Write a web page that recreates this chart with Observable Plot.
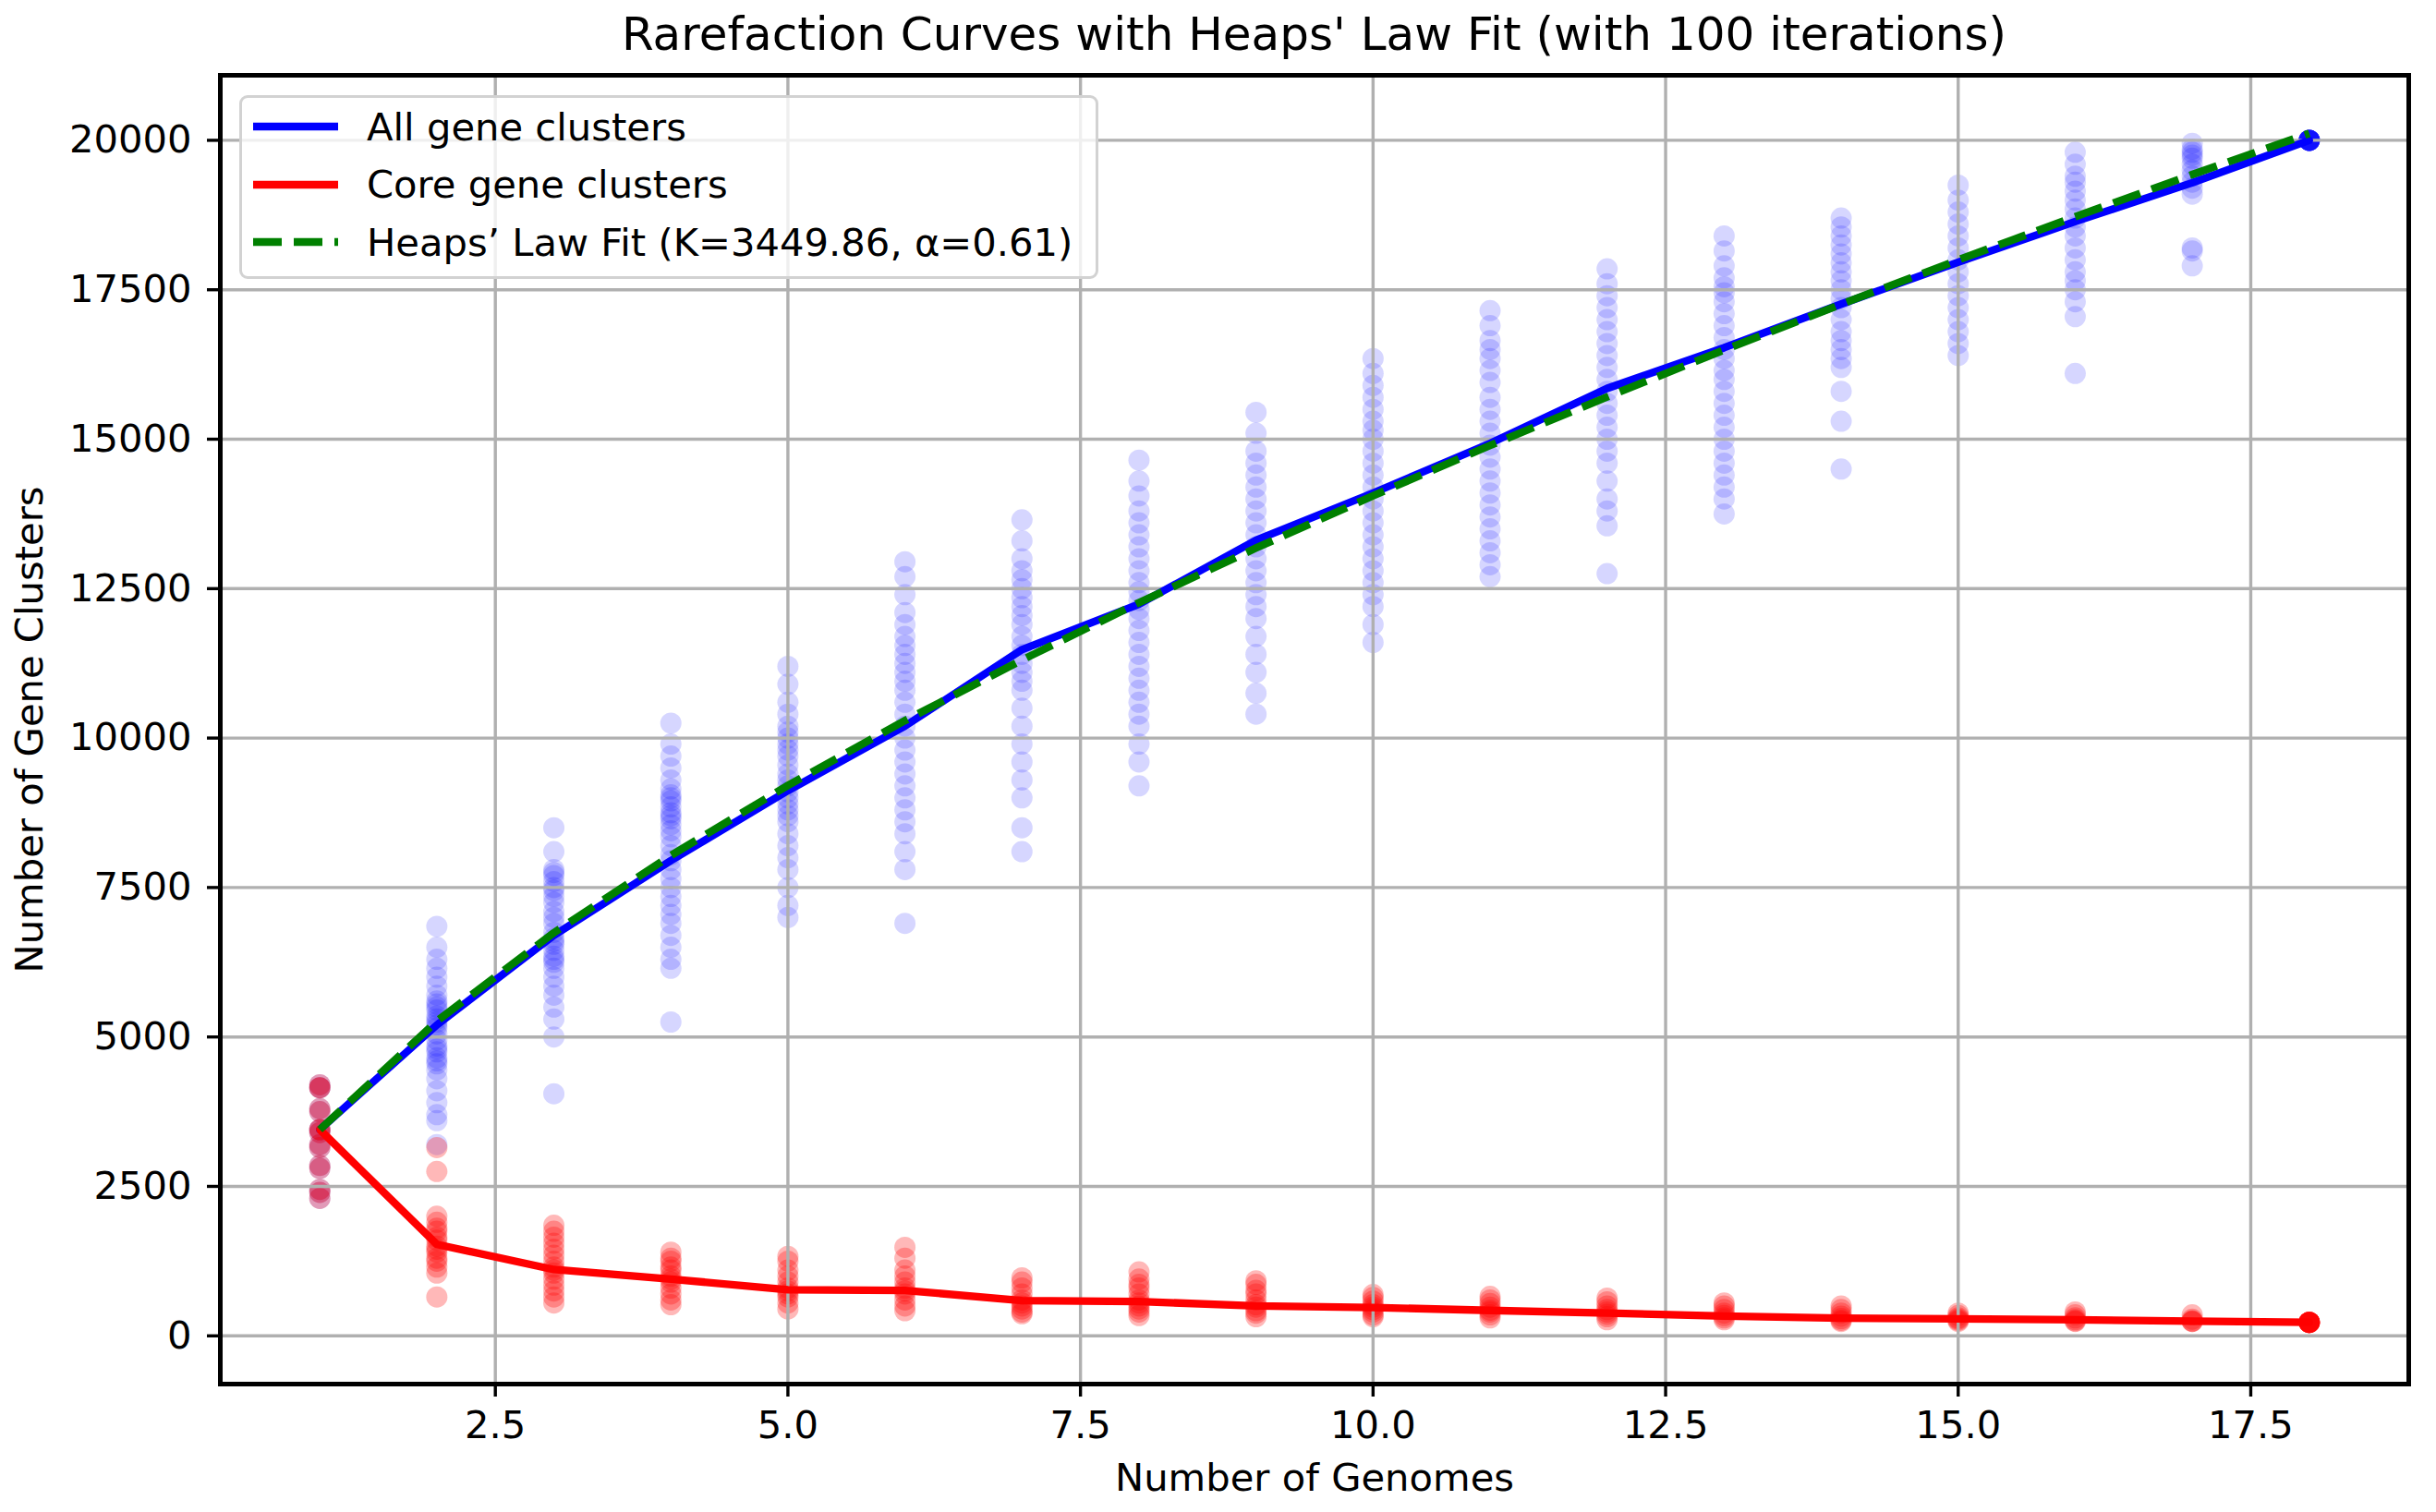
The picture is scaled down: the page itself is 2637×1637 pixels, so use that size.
<!DOCTYPE html>
<html>
<head>
<meta charset="utf-8">
<script src="https://cdn.jsdelivr.net/npm/d3@7"></script>
<script src="https://cdn.jsdelivr.net/npm/@observablehq/plot@0.6"></script>
<style>
  html, body { margin: 0; padding: 0; background: white; }
  #wrap { position: relative; width: 2637px; height: 1637px; font-family: "DejaVu Sans", sans-serif; }
  #title { height: 75px; line-height: 75px; font-size: 50px; text-align: center; padding-left: 238px; padding-right: 30px; box-sizing: border-box; width: 2637px; white-space: nowrap; }
  #legend { position: absolute; left: 259px; top: 103px; width: 930px; height: 199px; border: 3px solid #d2d2d2; border-radius: 9px; background: rgba(255,255,255,0.8); box-sizing: border-box; }
  .row { position: absolute; left: 0; height: 62px; display: flex; align-items: center; font-size: 41.7px; white-space: nowrap; }
  .row svg { margin-left: 12px; margin-right: 31px; }
</style>
</head>
<body>
<div id="wrap">
  <div id="title">Rarefaction Curves with Heaps' Law Fit (with 100 iterations)</div>
  <div id="chart"></div>
  <div id="legend"></div>
</div>
<script>
// Number of genomes sampled
const genomeCounts = [1, 2, 3, 4, 5, 6, 7, 8, 9, 10, 11, 12, 13, 14, 15, 16, 17, 18];

// Mean curves
const allGeneMean  = [3450, 5200, 6700, 7950, 9120, 10200, 11480, 12240, 13310, 14100, 14930, 15850, 16530, 17260, 17960, 18640, 19290, 20000];
const coreGeneMean = [3450, 1530, 1110, 950, 770, 760, 590, 575, 500, 475, 425, 380, 330, 295, 285, 270, 245, 225];
const heapsFit     = [3450, 5265, 6743, 8036, 9208, 10292, 11306, 12265, 13179, 14054, 14895, 15707, 16493, 17258, 17998, 18721, 19427, 20115];

// Iteration samples (one list per genome count)
const allGeneSamples = [
  [4200, 4150, 4150, 3800, 3750, 3450, 3400, 3450, 3200, 3150, 2800, 2850, 2450, 2400, 2300],
  [6850, 6500, 6300, 6150, 6000, 5850, 5700, 5600, 5550, 5500, 5450, 5350, 5300, 5250, 5200, 5150, 5050, 4950, 4850, 4800, 4750, 4650, 4600, 4550, 4450, 4300, 4100, 3900, 3700, 3600, 3200],
  [8500, 8100, 7800, 7750, 7700, 7600, 7500, 7450, 7350, 7250, 7100, 7000, 6900, 6750, 6650, 6600, 6550, 6450, 6350, 6300, 6250, 6150, 6000, 5850, 5700, 5500, 5300, 5000, 4050],
  [10250, 9900, 9700, 9500, 9300, 9150, 9050, 9000, 8950, 8850, 8750, 8700, 8650, 8550, 8450, 8350, 8200, 8050, 7950, 7800, 7650, 7500, 7350, 7200, 7050, 6900, 6700, 6500, 6300, 6150, 5250],
  [11200, 10900, 10600, 10400, 10200, 10100, 10000, 9900, 9800, 9700, 9550, 9400, 9300, 9200, 9100, 9000, 8900, 8800, 8700, 8600, 8400, 8200, 8000, 7800, 7500, 7200, 7000],
  [12950, 12700, 12400, 12100, 11900, 11700, 11550, 11400, 11250, 11100, 10950, 10800, 10600, 10400, 10200, 10000, 9800, 9600, 9400, 9200, 9000, 8800, 8600, 8400, 8100, 7800, 6900],
  [13650, 13300, 13000, 12800, 12650, 12500, 12350, 12200, 12050, 11900, 11700, 11550, 11400, 11250, 11100, 10950, 10800, 10500, 10200, 9900, 9600, 9300, 9000, 8500, 8100],
  [14650, 14300, 14050, 13800, 13600, 13400, 13200, 13000, 12800, 12600, 12450, 12300, 12150, 12000, 11800, 11600, 11400, 11200, 11000, 10800, 10600, 10400, 10200, 9900, 9600, 9200],
  [15450, 15100, 14800, 14600, 14400, 14200, 14000, 13800, 13600, 13400, 13200, 13000, 12800, 12600, 12400, 12200, 12000, 11700, 11400, 11100, 10750, 10400],
  [16350, 16100, 15900, 15700, 15500, 15300, 15150, 15000, 14800, 14600, 14400, 14200, 14000, 13800, 13600, 13400, 13200, 13000, 12800, 12600, 12400, 12200, 11900, 11600],
  [17150, 16900, 16650, 16500, 16350, 16150, 15950, 15700, 15500, 15300, 15100, 14900, 14700, 14500, 14300, 14100, 13900, 13700, 13500, 13300, 13100, 12900, 12700],
  [17850, 17600, 17400, 17200, 17000, 16800, 16600, 16400, 16200, 16000, 15800, 15600, 15400, 15200, 15000, 14800, 14600, 14300, 14000, 13800, 13550, 12750],
  [18400, 18150, 17900, 17700, 17550, 17450, 17300, 17100, 16900, 16700, 16500, 16350, 16150, 16000, 15800, 15600, 15400, 15200, 15000, 14800, 14600, 14400, 14200, 14000, 13750],
  [18700, 18550, 18400, 18250, 18100, 17950, 17800, 17650, 17500, 17350, 17200, 17000, 16800, 16650, 16500, 16350, 16200, 15800, 15300, 14500],
  [19250, 19000, 18800, 18600, 18400, 18200, 18000, 17800, 17600, 17400, 17200, 17000, 16800, 16600, 16400],
  [19800, 19600, 19400, 19300, 19150, 19000, 18850, 18700, 18550, 18400, 18200, 18000, 17800, 17650, 17500, 17300, 17050, 16100],
  [19950, 19850, 19800, 19750, 19700, 19600, 19500, 19400, 19300, 19200, 19100, 18200, 18150, 17900],
  [20000, 20000, 20000, 20000, 20000, 20000, 20000, 20000, 20000, 20000, 20000, 20000, 20000, 20000, 20000]
];
const coreGeneSamples = [
  [4200, 4150, 4150, 3800, 3750, 3450, 3400, 3450, 3200, 3150, 2800, 2850, 2450, 2400, 2300],
  [3150, 2750, 2000, 1900, 1800, 1750, 1650, 1600, 1500, 1450, 1400, 1300, 1250, 1150, 1050, 650],
  [1850, 1750, 1650, 1550, 1450, 1350, 1250, 1150, 1100, 1050, 950, 850, 750, 650, 550],
  [1400, 1300, 1250, 1150, 1100, 1000, 950, 900, 800, 700, 600, 520],
  [1330, 1250, 1100, 1000, 900, 800, 750, 700, 650, 550, 450],
  [1480, 1300, 1100, 1000, 900, 800, 750, 700, 600, 500, 420],
  [970, 900, 800, 700, 600, 550, 500, 450, 400, 370],
  [1070, 950, 860, 800, 700, 600, 550, 500, 450, 400, 340],
  [920, 860, 760, 700, 600, 520, 480, 420, 380, 320],
  [690, 640, 580, 520, 480, 440, 400, 350, 320],
  [660, 600, 540, 480, 430, 400, 350, 300],
  [630, 570, 500, 440, 400, 360, 320, 270],
  [550, 500, 440, 380, 340, 300, 270],
  [500, 440, 380, 330, 290, 260, 240],
  [380, 340, 300, 280, 260, 240],
  [400, 350, 300, 270, 250, 240],
  [350, 280, 250, 240, 240],
  [225, 225, 225, 225, 225, 225, 225, 225, 225, 225, 225, 225]
];

const xTicks = [2.5, 5.0, 7.5, 10.0, 12.5, 15.0, 17.5];
const yTicks = [0, 2500, 5000, 7500, 10000, 12500, 15000, 17500, 20000];

const legendItems = [
  {label: "All gene clusters", color: "blue", dash: null},
  {label: "Core gene clusters", color: "red", dash: null},
  {label: "Heaps\u2019 Law Fit (K=3449.86, \u03b1=0.61)", color: "green", dash: "31,13"}
];

// Build tables for the library
const allPoints = genomeCounts.flatMap((n, i) => allGeneSamples[i].map(v => ({n, v})));
const corePoints = genomeCounts.flatMap((n, i) => coreGeneSamples[i].map(v => ({n, v})));
const curves = genomeCounts.map((n, i) => ({n, all: allGeneMean[i], core: coreGeneMean[i], fit: heapsFit[i]}));

const gridStyle = {stroke: "#b0b0b0", strokeOpacity: 1, strokeWidth: 3.4};

const chart = Plot.plot({
  width: 2637,
  height: 1562,
  marginTop: 6,
  marginRight: 30,
  marginBottom: 139,
  marginLeft: 238,
  style: {fontFamily: "DejaVu Sans", fontSize: "41.7px", background: "white", color: "black", overflow: "visible"},
  x: {domain: [0.15, 18.85]},
  y: {domain: [-807, 21088]},
  marks: [
    Plot.dot(allPoints, {x: "n", y: "v", r: 11.5, fill: "blue", fillOpacity: 0.16, stroke: null}),
    Plot.dot(corePoints, {x: "n", y: "v", r: 11.5, fill: "red", fillOpacity: 0.28, stroke: null}),
    Plot.gridX(xTicks, gridStyle),
    Plot.gridY(yTicks, gridStyle),
    Plot.line(curves, {x: "n", y: "all", stroke: "blue", strokeWidth: 8.3}),
    Plot.line(curves, {x: "n", y: "core", stroke: "red", strokeWidth: 8.3}),
    Plot.line(curves, {x: "n", y: "fit", stroke: "green", strokeWidth: 8.3, strokeDasharray: "31,13", strokeLinecap: "butt"}),
    Plot.axisX(xTicks, {tickSize: 14, tickPadding: 15, strokeWidth: 3.4, fontSize: 41.7,
      tickFormat: d => d.toFixed(1), label: "Number of Genomes", labelAnchor: "center", labelArrow: "none", labelOffset: 115}),
    Plot.axisY(yTicks, {tickSize: 14, tickPadding: 17, strokeWidth: 3.4, fontSize: 41.7,
      tickFormat: d => String(d), label: "Number of Gene Clusters", labelAnchor: "center", labelArrow: "none", labelOffset: 222}),
    Plot.frame({stroke: "black", strokeWidth: 5})
  ]
});
document.getElementById("chart").appendChild(chart);

// Legend
const legend = document.getElementById("legend");
legendItems.forEach((item, i) => {
  const row = document.createElement("div");
  row.className = "row";
  row.style.top = (0 + i * 62.5) + "px";
  const ns = "http://www.w3.org/2000/svg";
  const sw = document.createElementNS(ns, "svg");
  sw.setAttribute("width", "92");
  sw.setAttribute("height", "20");
  const ln = document.createElementNS(ns, "line");
  ln.setAttribute("x1", "0"); ln.setAttribute("x2", "92");
  ln.setAttribute("y1", "10"); ln.setAttribute("y2", "10");
  ln.setAttribute("stroke", item.color);
  ln.setAttribute("stroke-width", "8.3");
  if (item.dash) ln.setAttribute("stroke-dasharray", item.dash);
  sw.appendChild(ln);
  row.appendChild(sw);
  const t = document.createElement("span");
  t.textContent = item.label;
  row.appendChild(t);
  legend.appendChild(row);
});
</script>
</body>
</html>
